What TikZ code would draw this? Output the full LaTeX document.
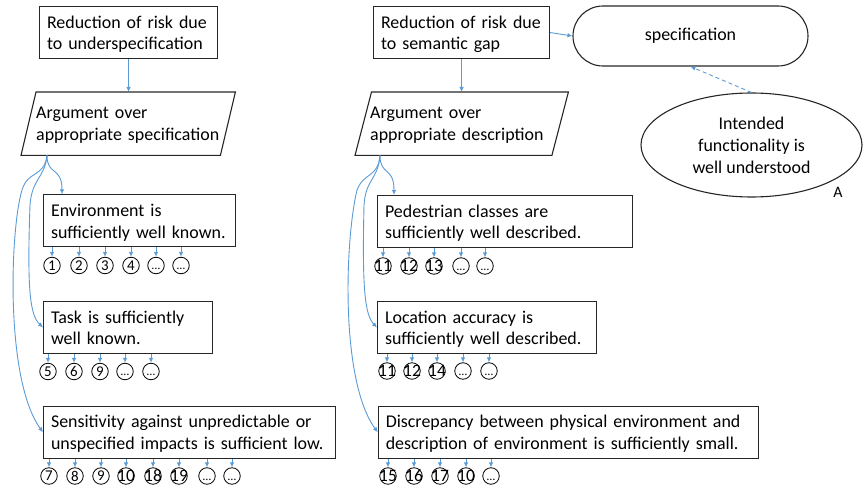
\documentclass[tikz,border=0pt]{standalone}
\usepackage{fontspec}
\setmainfont{Carlito}
\usetikzlibrary{shapes.geometric,shapes.misc,arrows.meta}
\definecolor{linkblue}{HTML}{5B9BD5}
\definecolor{boxc}{HTML}{262626}
\newcommand\circdots{\rule{0pt}{9bp}…}

\begin{document}
\begin{tikzpicture}[x=1bp,y=-1bp,
  every node/.style={font=\fontsize{18}{22}\selectfont},
  gbox/.style={draw=boxc, line width=1.1bp, rectangle, anchor=north west,
    inner xsep=7.5bp, inner ysep=0pt, text height=21.5bp, text depth=30.5bp,
    align=left, text width=#1},
  pbox/.style={rectangle, anchor=north west, inner xsep=15bp, inner ysep=0pt,
    text height=26.3bp, text depth=36.7bp, align=left, text width=#1},
  edge/.style={draw=boxc, line width=1.1bp, line join=miter},
  conn/.style={draw=linkblue, line width=0.9bp, -{Latex[length=5bp,width=4.5bp]}},
  cnum/.style={circle, draw=black, line width=0.8bp, minimum size=16.5bp, inner sep=0pt},
]
\useasboundingbox (0,0) rectangle (866,490);

% ---------- left branch: underspecification ----------
\node[gbox=163bp] (boxL0) at (39,6) {\mbox{Reduction of risk due}\\\mbox{to underspecification}};
\node[pbox=184bp] (argL) at (21,92) {\mbox{Argument over}\\\mbox{appropriate specification}};
\draw[edge] ([xshift=15bp]argL.north west) -- (argL.north east)
  -- ([xshift=-15bp]argL.south east) -- (argL.south west) -- cycle;
\draw[conn] (boxL0.south) -- (boxL0.south |- argL.north);

\node[gbox=177bp] (envL) at (43,194.3) {\mbox{Environment is}\\\mbox{sufficiently well known.}};
\node[gbox=154bp] (taskL) at (43,301) {\mbox{Task is sufficiently}\\\mbox{well known.}};
\node[gbox=277bp] (sensL) at (43,405.7) {\mbox{Sensitivity against unpredictable or}\\\mbox{unspecified impacts is sufficient low.}};

\coordinate (sL) at ([xshift=26bp]argL.south west);
\draw[conn] (sL) .. controls (47,176) and (62,166) .. ([xshift=19bp]envL.north west);
\draw[conn] (sL) .. controls (45,178) and (32,178) .. (30,205)
  .. controls (27,290) and (30,315) .. (taskL.west);
\draw[conn] (sL) .. controls (44,178) and (28,170) .. (22,190)
  .. controls (10,230) and (5,380) .. (sensL.west);

\foreach \n/\x/\fs/\t in {1/52/15/1, 2/79/15/2, 3/105/15/3, 4/131/15/4, 5/156/12/\circdots, 6/181/12/\circdots} {
  \node[cnum, font=\fontsize{\fs}{\fs}\selectfont] (la\n) at (\x,265.5) {\makebox[0pt]{\t}};
  \draw[conn] (envL.south -| la\n) -- (la\n.north);
}
\foreach \n/\x/\fs/\t in {1/48/15/5, 2/74/15/6, 3/100/15/9, 4/125/12/\circdots, 5/151/12/\circdots} {
  \node[cnum, font=\fontsize{\fs}{\fs}\selectfont] (lb\n) at (\x,371.5) {\makebox[0pt]{\t}};
  \draw[conn] (taskL.south -| lb\n) -- (lb\n.north);
}
\foreach \n/\x/\fs/\t in {1/49/15/7, 2/75/15/8, 3/101/15/9, 4/126/17.5/10, 5/153/17.5/18, 6/179/17.5/19, 7/207/12/\circdots, 8/232/12/\circdots} {
  \node[cnum, font=\fontsize{\fs}{\fs}\selectfont] (lc\n) at (\x,476) {\makebox[0pt]{\t}};
  \draw[conn] (sensL.south -| lc\n) -- (lc\n.north);
}

% ---------- right branch: semantic gap ----------
\node[gbox=161bp] (boxR0) at (373,6) {\mbox{Reduction of risk due}\\\mbox{to semantic gap}};
\node[pbox=183bp] (argR) at (355,92) {\mbox{Argument over}\\\mbox{appropriate description}};
\draw[edge] ([xshift=16.5bp]argR.north west) -- (argR.north east)
  -- ([xshift=-16.5bp]argR.south east) -- (argR.south west) -- cycle;
\draw[conn] (boxR0.south) -- (boxR0.south |- argR.north);

\node[rounded rectangle, draw=boxc, line width=1.1bp, minimum width=235bp,
  minimum height=60bp, inner sep=0pt] (specR) at (690.5,36) {specification};
\node[ellipse, draw=boxc, line width=1.1bp, minimum width=221bp, minimum height=104bp,
  inner sep=0pt, align=center] (ellR) at (751.5,145) {Intended\\functionality is\\well understood};
\node[font=\fontsize{16}{16}\selectfont, inner sep=0pt] (lblA) at (838,192) {A};
\draw[conn] (boxR0.east) -- (specR.west);
\draw[conn, dash pattern=on 4bp off 3bp] (ellR.north) -- (specR.south);

\node[gbox=240bp] (pedR) at (377,195) {\mbox{Pedestrian classes are}\\\mbox{sufficiently well described.}};
\node[gbox=204bp] (locR) at (377,301) {\mbox{Location accuracy is}\\\mbox{sufficiently well described.}};
\node[gbox=365bp] (discR) at (377.7,405.7) {\mbox{Discrepancy between physical environment and}\\\mbox{description of environment is sufficiently small.}};

\coordinate (sR) at ([xshift=25bp]argR.south west);
\draw[conn] (sR) .. controls (380,176) and (394,166) .. ([xshift=17bp]pedR.north west);
\draw[conn] (sR) .. controls (378,180) and (366,178) .. (364,205)
  .. controls (362,290) and (365,315) .. (locR.west);
\draw[conn] (sR) .. controls (378,178) and (364,172) .. (357,190)
  .. controls (345,240) and (340,380) .. (discR.west);

\foreach \n/\x/\fs/\t in {1/383/17.5/11, 2/409/17.5/12, 3/434/17.5/13, 4/461/12/\circdots, 5/485/12/\circdots} {
  \node[cnum, font=\fontsize{\fs}{\fs}\selectfont] (ra\n) at (\x,266) {\makebox[0pt]{\t}};
  \draw[conn] (pedR.south -| ra\n) -- (ra\n.north);
}
\foreach \n/\x/\fs/\t in {1/387/17.5/11, 2/412/17.5/12, 3/437/17.5/14, 4/463/12/\circdots, 5/489/12/\circdots} {
  \node[cnum, font=\fontsize{\fs}{\fs}\selectfont] (rb\n) at (\x,371) {\makebox[0pt]{\t}};
  \draw[conn] (locR.south -| rb\n) -- (rb\n.north);
}
\foreach \n/\x/\fs/\t in {1/388/17.5/15, 2/414/17.5/16, 3/440/17.5/17, 4/466/17.5/10, 5/491/12/\circdots} {
  \node[cnum, font=\fontsize{\fs}{\fs}\selectfont] (rc\n) at (\x,476) {\makebox[0pt]{\t}};
  \draw[conn] (discR.south -| rc\n) -- (rc\n.north);
}
\end{tikzpicture}
\end{document}
